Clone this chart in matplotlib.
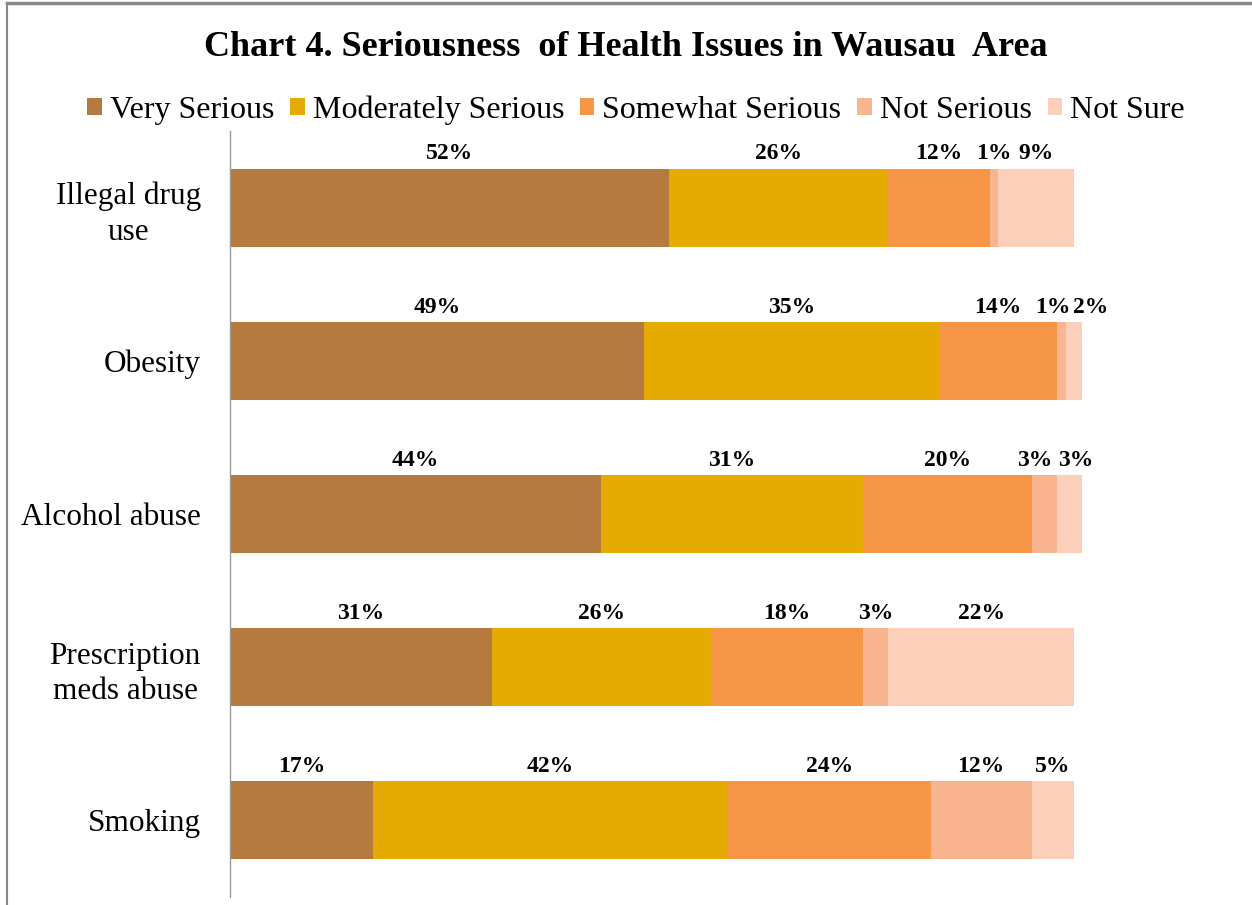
import matplotlib

matplotlib.use("Agg")
import matplotlib.pyplot as plt
from matplotlib.lines import Line2D

# survey categories, top to bottom
issues = ["Illegal drug\nuse", "Obesity", "Alcohol abuse", "Prescription\nmeds abuse", "Smoking"]
levels = ["Very Serious", "Moderately Serious", "Somewhat Serious", "Not Serious", "Not Sure"]

# percent of respondents per level, one list per level (same order as issues)
very_serious = [52, 49, 44, 31, 17]
moderately_serious = [26, 35, 31, 26, 42]
somewhat_serious = [12, 14, 20, 18, 24]
not_serious = [1, 1, 3, 3, 12]
not_sure = [9, 2, 3, 22, 5]

colors = ["#B57A3E", "#E6AB02", "#F79646", "#F9B490", "#FBCFBA"]

# small sideways nudges (points) for labels that would collide
nudge = {(1, 3): -6, (1, 4): 12, (2, 3): -7, (2, 4): 4}

plt.rcParams["font.family"] = ["Liberation Serif", "DejaVu Serif"]

W, H = 1252, 905
fig = plt.figure(figsize=(W / 100, H / 100), dpi=100)
ax = fig.add_axes([230 / W, 8 / H, 928.4 / W, 766 / H])

series = [very_serious, moderately_serious, somewhat_serious, not_serious, not_sure]
ypos = list(range(len(issues)))
left = [0] * len(issues)
for k, (name, vals, col) in enumerate(zip(levels, series, colors)):
    bars = ax.barh(ypos, vals, left=left, height=0.51, color=col, label=name)
    for i, (b, v) in enumerate(zip(bars, vals)):
        ax.annotate(f"{v}%", (b.get_x() + b.get_width() / 2, b.get_y()),
                    xytext=(nudge.get((i, k), 0), 3), textcoords="offset points",
                    ha="center", va="bottom", fontsize=17, fontweight="bold")
    left = [a + v for a, v in zip(left, vals)]

ax.set_xlim(0, 110)
ax.set_ylim(len(issues) - 0.5, -0.5)
ax.set_yticks(ypos)
ax.set_yticklabels(issues, fontsize=22.5, linespacing=1.3, multialignment="center")
ax.tick_params(axis="y", length=0, pad=21)
ax.set_xticks([])
for s in ("top", "right", "bottom"):
    ax.spines[s].set_visible(False)
ax.spines["left"].set_color("#999999")
ax.spines["left"].set_linewidth(1)

fig.text(0.5, 1 - 47 / H, "Chart 4. Seriousness  of Health Issues in Wausau  Area",
         ha="center", va="center", fontsize=26, fontweight="bold")
fig.legend(loc="center", bbox_to_anchor=(0.508, 1 - 110 / H), ncol=5, frameon=False,
           fontsize=23, handlelength=0.45, handleheight=0.45, handletextpad=0.25,
           columnspacing=0.5)

# gray frame on the top and left edges only
fig.lines.append(Line2D([7 / W, 1], [1 - 3.5 / H, 1 - 3.5 / H], transform=fig.transFigure,
                        color="#888888", linewidth=2.5))
fig.lines.append(Line2D([7 / W, 7 / W], [0, 1 - 3.5 / H], transform=fig.transFigure,
                        color="#888888", linewidth=1.5))

fig.savefig("out.png", dpi=100)
